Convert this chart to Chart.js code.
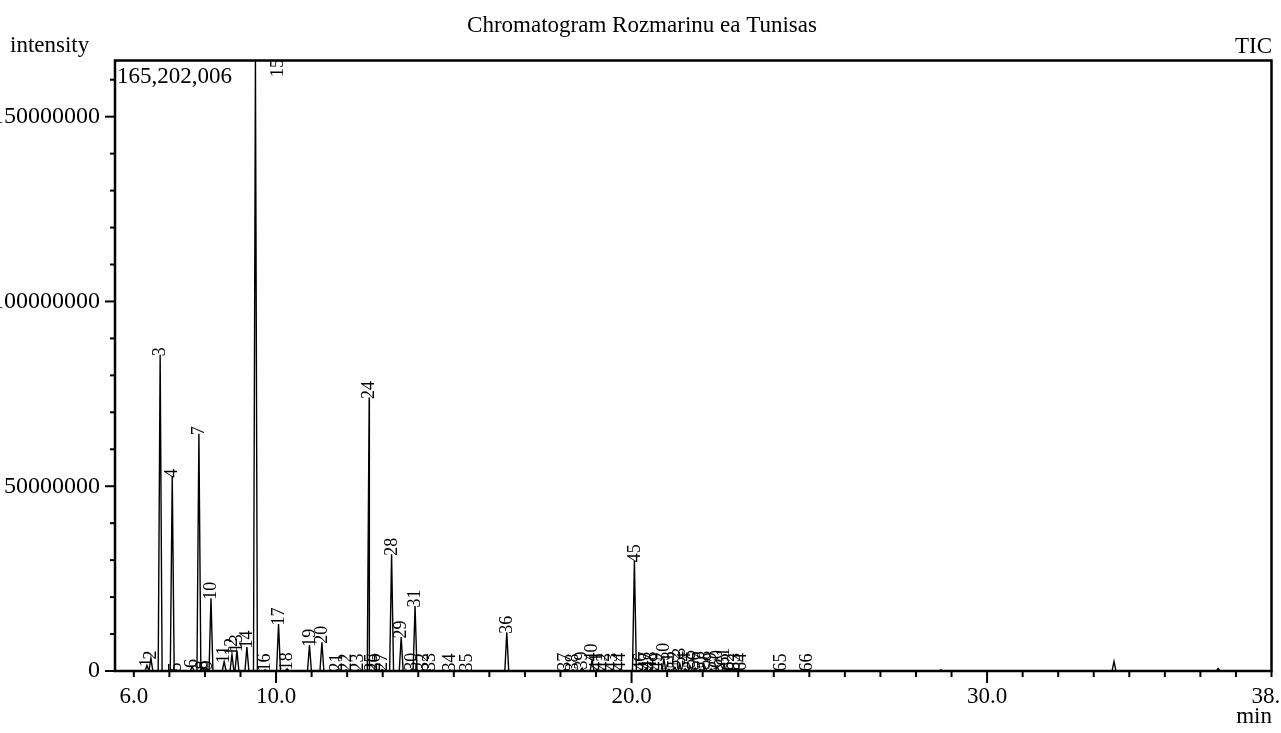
<!DOCTYPE html>
<html>
<head>
<meta charset="utf-8">
<title>Chromatogram Rozmarinu ea Tunisas</title>
<script src="https://cdn.jsdelivr.net/npm/chart.js@4.4.1/dist/chart.umd.min.js"></script>
<style>
	html, body { margin: 0; padding: 0; background: #fff; }
	#wrap { position: relative; width: 1281px; height: 733px; overflow: hidden; }
</style>
</head>
<body>
<div id="wrap"><canvas id="chrom" width="1281" height="733"></canvas></div>
<script>
// peak table: retention time (min) and height (counts)
var peakNo = [1, 2, 3, 4, 5, 6, 7, 8, 9, 10,
	11, 12, 13, 14, 15, 16, 17, 18, 19, 20,
	21, 22, 23, 24, 25, 26, 27, 28, 29, 30,
	31, 32, 33, 34, 35, 36, 37, 38, 39, 40,
	41, 42, 43, 44, 45, 46, 47, 48, 49, 50,
	51, 52, 53, 54, 55, 56, 57, 58, 59, 60,
	61, 62, 63, 64, 65, 66];
var peakTime = [6.37, 6.48, 6.74, 7.08, 7.19, 7.64, 7.83, 7.94, 8.05, 8.17,
	8.54, 8.76, 8.90, 9.18, 9.42, 9.69, 10.07, 10.31, 10.94, 11.29,
	11.72, 11.97, 12.31, 12.62, 12.68, 12.78, 12.98, 13.25, 13.52, 13.82,
	13.91, 14.13, 14.33, 14.89, 15.37, 16.49, 18.13, 18.35, 18.61, 18.89,
	19.03, 19.23, 19.45, 19.68, 20.08, 20.27, 20.41, 20.55, 20.72, 20.91,
	21.05, 21.22, 21.36, 21.51, 21.65, 21.79, 21.93, 22.07, 22.24, 22.41,
	22.60, 22.74, 22.91, 23.08, 24.21, 24.93];
var peakHeight = [1500000, 3500000, 85600000, 52700000, 300000, 1200000, 64200000, 800000, 800000, 19700000,
	2500000, 4500000, 5500000, 6500000, 165202006, 300000, 12700000, 600000, 7000000, 7800000,
	300000, 300000, 300000, 74000000, 300000, 300000, 400000, 31600000, 9200000, 500000,
	17600000, 400000, 400000, 300000, 300000, 10500000, 500000, 300000, 800000, 3000000,
	500000, 500000, 500000, 500000, 29800000, 500000, 800000, 800000, 500000, 3200000,
	500000, 1000000, 1800000, 600000, 1200000, 800000, 500000, 1000000, 600000, 1200000,
	1800000, 500000, 400000, 400000, 300000, 300000];

// small unlabelled bumps late in the run
var bumpTime = [28.7, 33.57, 36.5];
var bumpHeight = [300000, 2600000, 700000];

var maxIntensity = 165202006;
var runStart = 6.0;
var xMin = 5.47;
var xMax = 38.0;

var xTickValues = [6, 7, 8, 9, 10, 11, 12, 13, 14, 15, 16, 17, 18, 19, 20, 21, 22,
	23, 24, 25, 26, 27, 28, 29, 30, 31, 32, 33, 34, 35, 36, 37, 38];
var xMajorTicks = [10, 20, 30];
var xLabelAt = [6, 10, 20, 30, 38];
// the last label is cut at the right edge in the original, trailing spaces nudge it left
var xLabelText = ["6.0", "10.0", "20.0", "30.0", "38.  "];

var yTickValues = [0, 10000000, 20000000, 30000000, 40000000, 50000000, 60000000,
	70000000, 80000000, 90000000, 100000000, 110000000, 120000000, 130000000,
	140000000, 150000000, 160000000];
var yLabelAt = [0, 50000000, 100000000, 150000000];

var serif = '"Liberation Serif", "Times New Roman", serif';
var halfWidth = 0.055;

// trace: a narrow triangle per peak on a flat baseline
var trace = [];
function addPeak(t, h) {
	trace.push({ x: t - halfWidth, y: 0 });
	trace.push({ x: t, y: h });
	trace.push({ x: t + halfWidth, y: 0 });
}
for (var i = 0; i < peakTime.length; i++) addPeak(peakTime[i], peakHeight[i]);
for (var j = 0; j < bumpTime.length; j++) addPeak(bumpTime[j], bumpHeight[j]);
trace.sort(function (a, b) { return a.x - b.x; });
trace.unshift({ x: runStart, y: 0 });
trace.push({ x: xMax, y: 0 });

function strokeLine(ctx, x1, y1, x2, y2) {
	ctx.beginPath();
	ctx.moveTo(x1, y1);
	ctx.lineTo(x2, y2);
	ctx.stroke();
}

var decor = {
	id: "decor",
	afterDatasetsDraw: function (chart) {
		var ctx = chart.ctx;
		var a = chart.chartArea;
		var xs = chart.scales.x;
		var ys = chart.scales.y;
		ctx.save();
		ctx.strokeStyle = "#000";
		ctx.fillStyle = "#000";

		// peak numbers, rotated, sitting on each apex
		ctx.font = "18px " + serif;
		ctx.textAlign = "left";
		ctx.textBaseline = "middle";
		for (var i = 0; i < peakNo.length; i++) {
			var label = String(peakNo[i]);
			var w = ctx.measureText(label).width;
			var px = xs.getPixelForValue(peakTime[i]) + 0.5;
			var py = ys.getPixelForValue(peakHeight[i]) + 1.5;
			if (py - w < a.top) {
				px += 22.5;
				py = a.top + w - 1.5;
			}
			ctx.save();
			ctx.translate(px, py);
			ctx.rotate(-Math.PI / 2);
			ctx.fillText(label, 0, 0);
			ctx.restore();
		}

		// frame
		ctx.lineWidth = 2.5;
		ctx.strokeRect(a.left, a.top, a.right - a.left, a.bottom - a.top);

		// tick marks
		ctx.lineWidth = 2;
		xTickValues.forEach(function (v) {
			var px = xs.getPixelForValue(v);
			var len = xMajorTicks.indexOf(v) >= 0 ? 12 : 6;
			strokeLine(ctx, px, a.bottom, px, a.bottom + len);
		});
		yTickValues.forEach(function (v) {
			var py = ys.getPixelForValue(v);
			var len = yLabelAt.indexOf(v) >= 0 ? 10 : 5;
			strokeLine(ctx, a.left - len, py, a.left, py);
		});

		// texts
		ctx.font = "23px " + serif;
		ctx.textBaseline = "alphabetic";
		ctx.textAlign = "center";
		ctx.fillText("Chromatogram Rozmarinu ea Tunisas", 642, 32);
		ctx.textAlign = "left";
		ctx.fillText("intensity", 10, 52);
		ctx.fillText(maxIntensity.toLocaleString("en-US"), 117, 83);
		ctx.textAlign = "right";
		ctx.fillText("TIC", 1272, 52.5);
		ctx.fillText("min", 1272, 723);
		ctx.restore();
	}
};

new Chart(document.getElementById("chrom"), {
	type: "line",
	data: {
		datasets: [
			{
				label: "TIC",
				data: trace,
				borderColor: "#000",
				borderWidth: 1.4,
				pointRadius: 0,
				tension: 0,
				fill: false
			}
		]
	},
	options: {
		responsive: false,
		animation: false,
		layout: { padding: { left: 0, right: 9.5, top: 60.5, bottom: 17 } },
		plugins: {
			legend: { display: false },
			tooltip: { enabled: false },
			title: { display: false }
		},
		scales: {
			x: {
				type: "linear",
				min: xMin,
				max: xMax,
				grid: { display: false },
				border: { display: false },
				afterBuildTicks: function (s) {
					s.ticks = xTickValues.map(function (v) { return { value: v }; });
				},
				afterFit: function (s) {
					s.height = 45;
					s.paddingLeft = 0;
					s.paddingRight = 0;
				},
				ticks: {
					autoSkip: false,
					maxRotation: 0,
					padding: 4,
					color: "#000",
					font: { family: serif, size: 23 },
					callback: function (v) {
						var k = xLabelAt.indexOf(v);
						return k >= 0 ? xLabelText[k] : "";
					}
				}
			},
			y: {
				min: 0,
				max: maxIntensity,
				grid: { display: false },
				border: { display: false },
				afterBuildTicks: function (s) {
					s.ticks = yTickValues.map(function (v) { return { value: v }; });
				},
				afterFit: function (s) {
					s.width = 115;
					s.paddingTop = 0;
					s.paddingBottom = 0;
				},
				ticks: {
					autoSkip: false,
					padding: 7,
					color: "#000",
					font: { family: serif, size: 24 },
					callback: function (v) {
						return yLabelAt.indexOf(v) >= 0 ? String(v) : "";
					}
				}
			}
		}
	},
	plugins: [decor]
});
</script>
</body>
</html>
